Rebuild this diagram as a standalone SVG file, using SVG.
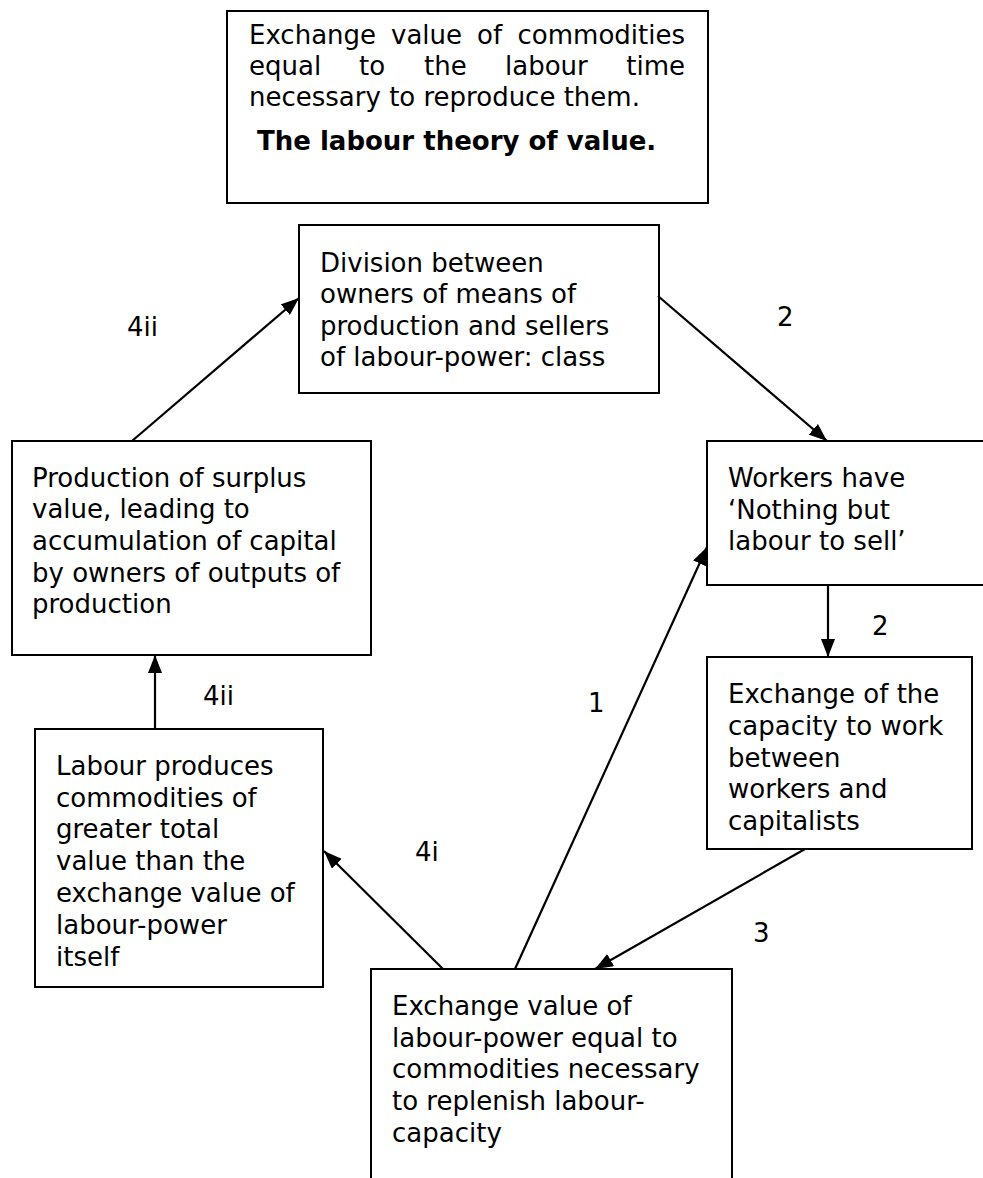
<svg xmlns="http://www.w3.org/2000/svg" width="983" height="1178" viewBox="0 0 983 1178">
<style>
text{font-family:"DejaVu Sans",Verdana,sans-serif;font-size:26px;fill:#000}
.b{font-weight:bold}
.box{fill:#fff;stroke:#000;stroke-width:2}
.c line{stroke:#000;stroke-width:2.2;marker-end:url(#ah)}
</style>
<defs>
<marker id="ah" viewBox="0 0 18 14" refX="18" refY="7" markerWidth="18" markerHeight="14" markerUnits="userSpaceOnUse" orient="auto"><path d="M0,0 L18,7 L0,14 z" fill="#000"/></marker>
</defs>
<rect width="983" height="1178" fill="#fff"/>
<g id="n-theory">
<rect class="box" x="227" y="11" width="481" height="192"/>
<text y="44"><tspan x="249">Exchange</tspan><tspan x="391">value</tspan><tspan x="477">of</tspan><tspan x="685" text-anchor="end">commodities</tspan></text>
<text y="75"><tspan x="249">equal</tspan><tspan x="359">to</tspan><tspan x="424">the</tspan><tspan x="505">labour</tspan><tspan x="685" text-anchor="end">time</tspan></text>
<text x="249" y="106">necessary to reproduce them.</text>
<text class="b" x="257" y="150">The labour theory of value.</text>
</g>
<g id="n-division">
<rect class="box" x="299" y="225" width="360" height="168"/>
<text x="320" y="272">Division between</text>
<text x="320" y="303">owners of means of</text>
<text x="320" y="335">production and sellers</text>
<text x="320" y="366">of labour-power: class</text>
</g>
<g id="n-surplus">
<rect class="box" x="12" y="441" width="359" height="214"/>
<text x="32" y="487">Production of surplus</text>
<text x="32" y="518">value, leading to</text>
<text x="32" y="550">accumulation of capital</text>
<text x="32" y="582">by owners of outputs of</text>
<text x="32" y="613">production</text>
</g>
<g id="n-workers">
<rect class="box" x="707" y="441" width="300" height="144"/>
<text x="728" y="487">Workers have</text>
<text x="728" y="519">‘Nothing but</text>
<text x="728" y="550">labour to sell’</text>
</g>
<g id="n-exchange-capacity">
<rect class="box" x="707" y="657" width="265" height="192"/>
<text x="728" y="703">Exchange of the</text>
<text x="728" y="735">capacity to work</text>
<text x="728" y="767">between</text>
<text x="728" y="798">workers and</text>
<text x="728" y="830">capitalists</text>
</g>
<g id="n-labour-produces">
<rect class="box" x="35" y="729" width="288" height="258"/>
<text x="56" y="775">Labour produces</text>
<text x="56" y="807">commodities of</text>
<text x="56" y="838">greater total</text>
<text x="56" y="870">value than the</text>
<text x="56" y="902">exchange value of</text>
<text x="56" y="934">labour-power</text>
<text x="56" y="966">itself</text>
</g>
<g id="n-labour-power">
<rect class="box" x="371" y="969" width="361" height="240"/>
<text x="392" y="1015">Exchange value of</text>
<text x="392" y="1047">labour-power equal to</text>
<text x="392" y="1078">commodities necessary</text>
<text x="392" y="1110">to replenish labour-</text>
<text x="392" y="1142">capacity</text>
</g>
<g id="connectors" class="c">
<line x1="132" y1="441" x2="299" y2="298"/>
<line x1="658" y1="296" x2="827" y2="441"/>
<line x1="828" y1="585" x2="828" y2="657"/>
<line x1="515" y1="969" x2="707" y2="547"/>
<line x1="805" y1="849" x2="595" y2="969"/>
<line x1="443" y1="969" x2="324" y2="851"/>
<line x1="155" y1="729" x2="155" y2="655"/>
</g>
<g id="labels">
<text x="127" y="336">4ii</text>
<text x="777" y="326">2</text>
<text x="872" y="635">2</text>
<text x="588" y="712">1</text>
<text x="753" y="942">3</text>
<text x="415" y="861">4i</text>
<text x="203" y="705">4ii</text>
</g>
</svg>
